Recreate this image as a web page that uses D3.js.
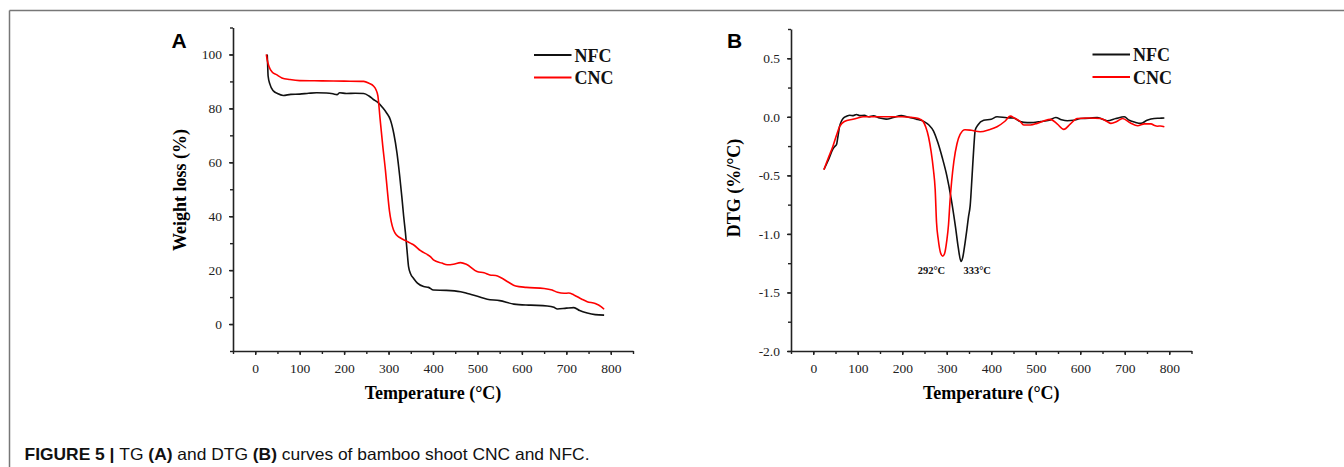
<!DOCTYPE html>
<html>
<head>
<meta charset="utf-8">
<script src="https://cdn.jsdelivr.net/npm/d3@7"></script>
<style>
  body { margin: 0; background: #fff; }
  svg { display: block; }
</style>
</head>
<body>
<div id="figure"></div>
<script>
// TG data, temperature (C) and weight (%)
const tgNFC = [[27,100],[28,96],[29,92],[33,89],[40.6,86.5],[50,85.5],[63,84.8],[80,85.2],[100,85.3],[120,85.6],[138,85.8],[160,85.7],[175,85.4],[184,85.1],[190,85.8],[205,85.5],[225,85.6],[244,85.5],[256,84.6],[266,83.3],[276,82.2],[286,80.4],[296,78.2],[304,75.8],[312,70.5],[319,63.4],[325,55],[330,47],[334,40],[338,33.8],[342,26.5],[345,21.3],[350,18.5],[356,17],[365,15.2],[379,13.9],[390,13.6],[401,12.6],[430,12.5],[462,12],[480,11.2],[500,10.3],[522,9.2],[550,8.7],[582,7.4],[620,7],[657,6.7],[672,6.2],[680,5.6],[700,5.9],[717,6.1],[730,5],[747,4.1],[765,3.5],[785,3.3]];
const tgCNC = [[25,100],[27,98],[31,95.5],[38,93.5],[48,92.5],[60,91.3],[78,90.7],[100,90.3],[150,90.2],[200,90.1],[244,90],[256,89.3],[266,88.3],[272,86.8],[276,84.6],[281,76],[287,66],[293,57],[297,50],[302,42],[306,38],[311,35],[318,33],[326,32],[340,30.8],[349,30],[356,29.4],[372,27.2],[394,25],[401,23.8],[420,22.6],[432,22],[446,22.2],[462,22.8],[475,22.2],[499,19.5],[515,19],[528,18.2],[541,18],[552,17.3],[570,15.5],[586,14.1],[610,13.6],[650,13.2],[668,12.6],[680,11.8],[695,11.4],[705,11.5],[717,10.8],[735,9.2],[747,8.3],[765,7.6],[778,6.5],[785,5.5]];

// DTG data, temperature (C) and %/C
const dtgNFC = [[24,-0.45],[35,-0.36],[45,-0.27],[49,-0.25],[52,-0.24],[55,-0.18],[59,-0.085],[63,-0.04],[67,-0.014],[75,0.005],[82,0.014],[90,0.01],[97,0.02],[104,0.01],[115,0.012],[125,0.0],[135,0.008],[149,-0.01],[164,-0.02],[180,-0.005],[198,0.01],[210,0],[222,-0.01],[232,-0.02],[242,-0.03],[251,-0.045],[260,-0.07],[270,-0.12],[280,-0.22],[290,-0.35],[300,-0.5],[310,-0.7],[320,-0.95],[326,-1.12],[332,-1.235],[336,-1.2],[341,-1.08],[345,-0.97],[349,-0.85],[352.6,-0.76],[357,-0.5],[361,-0.25],[364,-0.113],[370,-0.07],[383,-0.03],[400,-0.02],[413,0],[435,-0.008],[450,-0.01],[465,-0.04],[481,-0.05],[495,-0.048],[511,-0.04],[530,-0.03],[545,-0.006],[558,-0.025],[571,-0.034],[585,-0.03],[601,-0.014],[620,-0.012],[638,-0.006],[650,-0.02],[661,-0.034],[680,-0.015],[699,0],[710,-0.03],[722,-0.045],[736,-0.056],[750,-0.03],[766,-0.014],[778,-0.012],[789,-0.01]];
const dtgCNC = [[24,-0.452],[34,-0.35],[44,-0.254],[52,-0.16],[59,-0.085],[70,-0.04],[89,-0.02],[100,-0.01],[112,0],[140,0],[170,0],[200,0],[220,-0.005],[232,-0.01],[240,-0.02],[247,-0.04],[253,-0.09],[259,-0.17],[265,-0.3],[270,-0.45],[274,-0.62],[277,-0.9],[281,-1.05],[286,-1.16],[291,-1.19],[295,-1.17],[300,-1.06],[304,-0.92],[307.5,-0.71],[311,-0.55],[316,-0.38],[323,-0.23],[330,-0.15],[341,-0.11],[355,-0.115],[375,-0.127],[395,-0.11],[413,-0.085],[430,-0.04],[443,0.006],[452,-0.01],[465,-0.04],[473,-0.07],[488,-0.07],[503,-0.056],[518,-0.035],[533,-0.022],[548,-0.06],[563,-0.107],[578,-0.06],[593,-0.014],[620,-0.01],[646,-0.014],[660,-0.04],[669,-0.056],[682,-0.04],[695,-0.014],[712,-0.05],[729,-0.076],[744,-0.06],[759,-0.06],[767,-0.075],[774,-0.08],[780,-0.078],[789,-0.085]];

// series and ticks
const seriesNames = ["NFC", "CNC"];
const seriesColors = ["#111111", "#ff0000"];
const tempDomain = [-50, 850];
const tempTicks = [0, 100, 200, 300, 400, 500, 600, 700, 800];
const tgDomain = [-10, 110];
const tgTicks = [0, 20, 40, 60, 80, 100];
const dtgDomain = [-2.0, 0.75];
const dtgTicks = [-2.0, -1.5, -1.0, -0.5, 0.0, 0.5];
const peakTemps = [292, 333];
const peakLabels = ["292\u00B0C", "333\u00B0C"];

const W = 1344, H = 467;
const serif = "'Liberation Serif', 'Times New Roman', serif";

const svg = d3.select("#figure").append("svg")
  .attr("width", W)
  .attr("height", H);

// frame lines of the figure box
svg.append("line").attr("x1", 9.5).attr("x2", W).attr("y1", 10.5).attr("y2", 10.5)
  .attr("stroke", "#777").attr("stroke-width", 1.5);
svg.append("line").attr("x1", 9.5).attr("x2", 9.5).attr("y1", 10.5).attr("y2", H)
  .attr("stroke", "#777").attr("stroke-width", 1.5);

function drawPanel(p) {
  const g = svg.append("g").attr("transform", `translate(${p.left},${p.top})`);

  const x = d3.scaleLinear().domain(tempDomain).range([0, p.width]);
  const y = d3.scaleLinear().domain(p.yDomain).range([p.height, 0]);

  // minor ticks first
  g.append("g")
    .attr("transform", `translate(0,${p.height})`)
    .call(d3.axisBottom(x).tickValues(d3.range(-50, 851, 50)).tickSize(3).tickFormat(""))
    .call(a => a.select(".domain").remove());
  g.append("g")
    .call(d3.axisLeft(y).tickValues(p.yMinor).tickSize(3).tickFormat(""))
    .call(a => a.select(".domain").remove());

  // major axes
  const xAxis = g.append("g")
    .attr("transform", `translate(0,${p.height})`)
    .call(d3.axisBottom(x).tickValues(tempTicks).tickSize(4).tickPadding(8).tickSizeOuter(0));
  const yAxis = g.append("g")
    .call(d3.axisLeft(y).tickValues(p.yTicks).tickSize(4).tickPadding(7).tickSizeOuter(0)
      .tickFormat(p.yFormat));

  [xAxis, yAxis].forEach(a => {
    a.selectAll("text").attr("font-family", serif).attr("font-size", 13.5).attr("fill", "#222");
    a.select(".domain").attr("stroke", "#222").attr("stroke-width", 1.6);
  });
  g.selectAll(".tick line").attr("stroke", "#222").attr("stroke-width", 1.4);

  // curves
  const line = d3.line()
    .curve(d3.curveMonotoneX)
    .x(d => x(d[0]))
    .y(d => y(d[1]));

  p.series.forEach((s, i) => {
    g.append("path")
      .datum(s)
      .attr("d", line)
      .attr("fill", "none")
      .attr("stroke", seriesColors[i])
      .attr("stroke-width", 1.6);
  });

  // axis titles
  g.append("text")
    .attr("x", x(400))
    .attr("y", p.height + 48)
    .attr("text-anchor", "middle")
    .attr("font-family", serif).attr("font-size", 18).attr("font-weight", "bold")
    .text("Temperature (\u00B0C)");

  g.append("text")
    .attr("transform", "rotate(-90)")
    .attr("x", -p.yTitleY)
    .attr("y", p.yTitleX)
    .attr("text-anchor", "middle")
    .attr("font-family", serif).attr("font-size", 18).attr("font-weight", "bold")
    .text(p.yTitle);

  // panel letter
  svg.append("text")
    .attr("x", p.letterX)
    .attr("y", 48)
    .attr("font-family", "'Liberation Sans', Arial, sans-serif")
    .attr("font-size", 21).attr("font-weight", "bold")
    .text(p.letter);

  // legend
  const legend = g.append("g").attr("transform", `translate(${p.width - 99},${p.legendTop})`);
  seriesNames.forEach((name, i) => {
    legend.append("line")
      .attr("x1", 0).attr("x2", 37.5)
      .attr("y1", i * 22.5).attr("y2", i * 22.5)
      .attr("stroke", seriesColors[i]).attr("stroke-width", 1.8);
    legend.append("text")
      .attr("x", 40.5)
      .attr("y", i * 22.5 + 6.5)
      .attr("font-family", serif).attr("font-size", 18).attr("font-weight", "bold")
      .attr("fill", "#111")
      .text(name);
  });

  return {g, x, y};
}

// plain hyphen for negative tick labels, like the original
const hyphenFormat = d => d3.format(".1f")(d).replace("\u2212", "-");

// Panel A: TG
drawPanel({
  left: 233, top: 27.5, width: 400, height: 323.5,
  yDomain: tgDomain, yTicks: tgTicks, yMinor: d3.range(-10, 111, 10),
  yFormat: d3.format("d"),
  series: [tgNFC, tgCNC],
  yTitle: "Weight loss (%)", yTitleX: -47, yTitleY: 162.5,
  letter: "A", letterX: 171.5, legendTop: 27.5
});

// Panel B: DTG
const panelB = drawPanel({
  left: 791, top: 29, width: 400.5, height: 322,
  yDomain: dtgDomain, yTicks: dtgTicks, yMinor: d3.range(-2.0, 0.76, 0.25),
  yFormat: hyphenFormat,
  series: [dtgNFC, dtgCNC],
  yTitle: "DTG (%/\u00B0C)", yTitleX: -51, yTitleY: 159,
  letter: "B", letterX: 727, legendTop: 25.5
});

// peak temperature labels
peakTemps.forEach((t, i) => {
  panelB.g.append("text")
    .attr("x", panelB.x(t) + 2)
    .attr("y", panelB.y(-1.34))
    .attr("text-anchor", i === 0 ? "end" : "start")
    .attr("font-family", serif).attr("font-size", 10.5).attr("font-weight", "bold")
    .attr("fill", "#111")
    .text(peakLabels[i]);
});

// caption
const caption = svg.append("text")
  .attr("x", 24.5)
  .attr("y", 460)
  .attr("font-family", "'Liberation Sans', Arial, sans-serif")
  .attr("font-size", 16.5)
  .attr("textLength", 565)
  .attr("lengthAdjust", "spacingAndGlyphs")
  .attr("fill", "#111");
const captionParts = [
  ["FIGURE 5 | ", "bold"], ["TG ", "normal"], ["(A)", "bold"], [" and DTG ", "normal"],
  ["(B)", "bold"], [" curves of bamboo shoot CNC and NFC.", "normal"]
];
captionParts.forEach(d => {
  caption.append("tspan").attr("font-weight", d[1]).text(d[0]);
});
</script>
</body>
</html>
